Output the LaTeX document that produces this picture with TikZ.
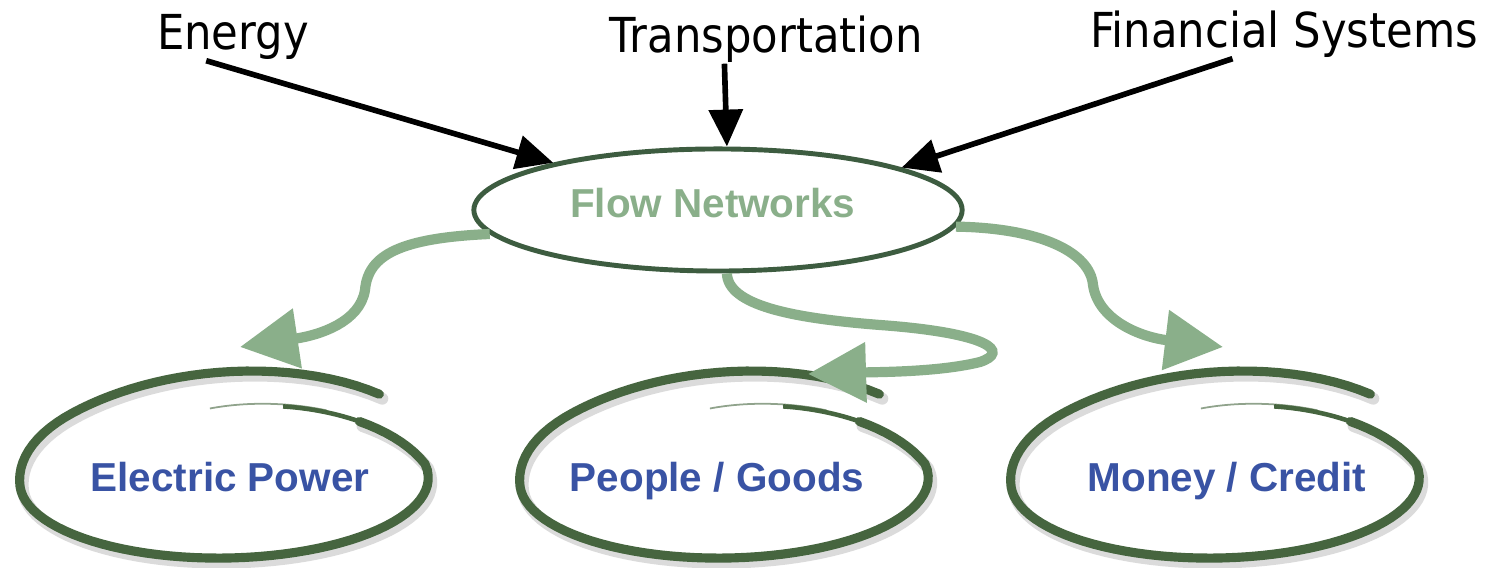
\documentclass[tikz,border=0pt]{standalone}
\usepackage{fontspec}
\setmainfont{Liberation Sans}
\newfontfamily\sectorfont[FakeStretch=0.9]{DejaVu Sans}
\usepackage{tikz}
\usetikzlibrary{arrows.meta,shapes.geometric,positioning}
\definecolor{flowgreen}{HTML}{8AAF8A}
\definecolor{hubgreen}{HTML}{3D5C40}
\definecolor{loopgreen}{HTML}{46653F}
\definecolor{kindblue}{HTML}{3953A4}
\tikzset{
  every picture/.style = {
    x = 0.01cm,
    y = -0.01cm,
  }
  , % shape of the hand drawn loops
  declare function = {
    loopr(\t) = 1 + (\t<135)*0.075*(1+cos(2*(\t-45))) - 0.12*max(0,(\t-365)/35);
    loopv(\t) = -12 - ((sin(\t)>0) ? 100 : 78)*loopr(\t)*sin(\t);
    loopx(\t) = -6 + 204*loopr(\t)*cos(\t) + 0.13*(loopv(\t)+12);
    loopy(\t) = loopv(\t) - 0.03*loopx(\t);
  }
  , % labels of sectors
  sector/.style = {
    font = \sectorfont\fontsize{13.7}{16}\selectfont,
    inner sep = 0pt
  }
  , % black edges into the hub
  feed/.style = {
    draw = black,
    line width = 1.6pt,
    -{Triangle[length=10.5pt,width=9.5pt]}
  }
  ,
  hub/.style = {
    ellipse,
    draw = hubgreen,
    line width = 1.4pt,
    minimum width = 4.88cm,
    minimum height = 1.22cm,
    inner sep = 0pt,
    text = flowgreen,
    font = \bfseries\fontsize{11.5}{14}\selectfont
  }
  , % labels of flow kinds
  kind/.style = {
    text = kindblue,
    inner sep = 0pt,
    font = \bfseries\fontsize{11.5}{14}\selectfont
  }
  , % green edges out of the hub
  branch/.style = {
    draw = flowgreen,
    line width = 2.9pt,
    -{Triangle[length=16.5pt,width=16.5pt]}
  }
  ,
  brush/.style = {
    draw = loopgreen,
    line width = 2.6pt,
    line cap = round
  }
  ,
  brush shadow/.style = {
    draw = black,
    opacity = 0.14,
    line width = 3.4pt,
    line cap = round
  }
}

\begin{document}
\begin{tikzpicture}
    \useasboundingbox (0,0) rectangle (1486,568);
    \node[sector, anchor=base] (energy) at (233,50) {Energy};
    \node[sector, anchor=base] (trans) at (766,53) {Transportation};
    \node[sector, anchor=base] (fin) at (1284,48) {Financial Systems};
    \node[hub] (flow) at (718,210) {\raisebox{4.2pt}{Flow Networks}\kern3pt};
    \node[kind, anchor=base] (power) at (230,492) {Electric Power};
    \node[kind, anchor=base] (goods) at (717,492) {People / Goods};
    \node[kind, anchor=base] (money) at (1227,492) {Money / Credit};
    % hand drawn loops
    \foreach \n/\dx in {power/0,goods/13,money/-6} {
      \begin{scope}[shift={(\n.base)}, xshift=\dx*0.01cm]
        \draw[brush shadow, xshift=0.03cm, yshift=-0.045cm] plot[domain=45:398, samples=100, variable=\t] ({loopx(\t)}, {loopy(\t)});
        \draw[brush] plot[domain=45:398, samples=100, variable=\t] ({loopx(\t)}, {loopy(\t)});
        \draw[loopgreen, line width=1.3pt] plot[domain=396:425, samples=15, variable=\t] ({loopx(\t)}, {loopy(\t)});
        \draw[loopgreen, line width=0.5pt, opacity=0.6] plot[domain=410:452, samples=15, variable=\t] ({loopx(\t)}, {loopy(\t)-2});
      \end{scope}
    }
    % feeds into the hub
    \draw[feed] (energy.-139) -- (flow.164);
    \draw[feed] (trans.-150) -- (flow.82);
    \draw[feed] (fin.-155) -- (flow.13.5);
    % branches out of the hub
    \coordinate (powertip) at (240,347);
    \coordinate (goodstip) at (808,374);
    \coordinate (moneytip) at (1223,347);
    \draw[branch] (flow.186) .. controls (400,238) and (368,255) .. (365,290) .. controls (360,322) and (320,335) .. (powertip);
    \draw[branch] (flow.-82) .. controls (728,305) and (790,318) .. (880,325) .. controls (990,333) and (1010,352) .. (980,362) .. controls (940,372) and (880,372) .. (goodstip);
    \draw[branch] (flow.-4) .. controls (1040,228) and (1090,252) .. (1093,285) .. controls (1098,320) and (1140,337) .. (moneytip);
\end{tikzpicture}
\end{document}
